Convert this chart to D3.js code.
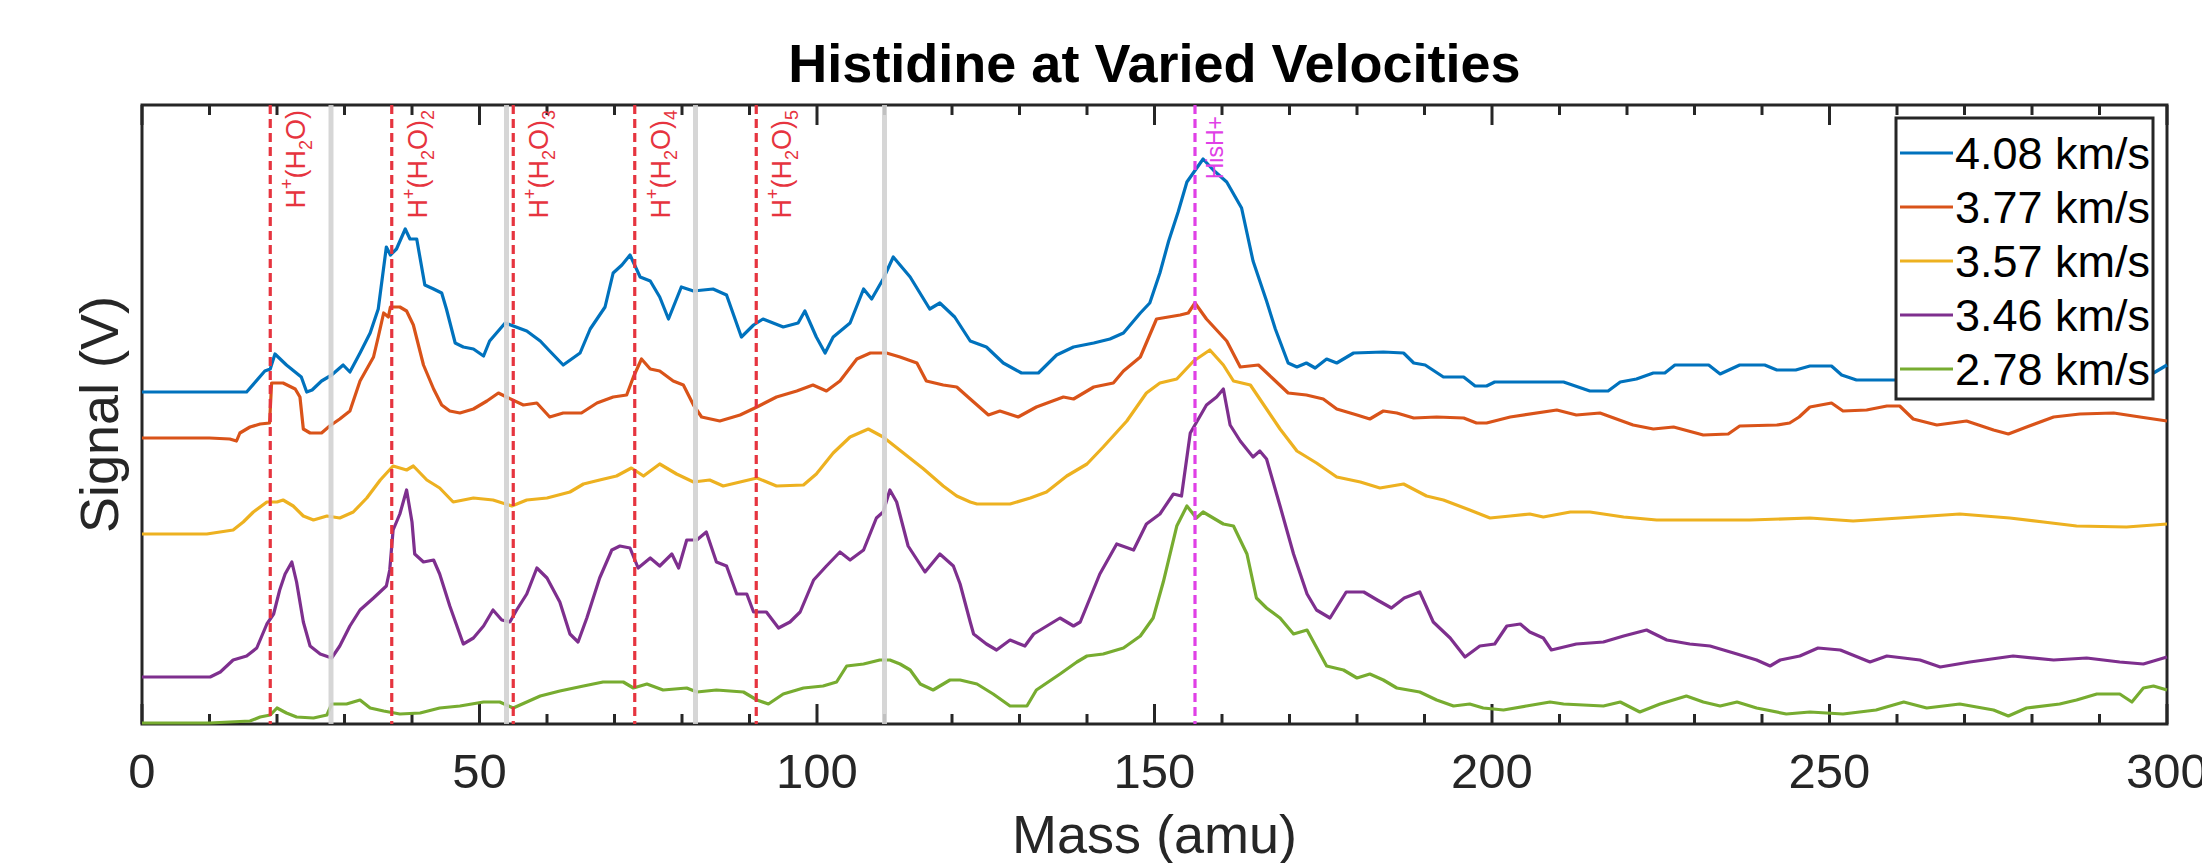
<!DOCTYPE html>
<html>
<head>
<meta charset="utf-8">
<script src="https://cdn.jsdelivr.net/npm/d3@7/dist/d3.min.js"></script>
<style>
  body { margin: 0; background: #fff; }
  svg { display: block; font-family: "Liberation Sans", Arial, Helvetica, sans-serif; }
</style>
</head>
<body>
<div id="vis"></div>
<script>
// ---- data: [mass (amu), signal (offset, a.u.)] ----

const velocities = ['4.08 km/s', '3.77 km/s', '3.57 km/s', '3.46 km/s', '2.78 km/s'];

const sig408 = [[0,3.32],[15.5,3.32],[18.2,3.53],[19,3.55],[19.7,3.70],[21.4,3.59],[23.6,3.47],[24.4,3.32],[25.2,3.34],[26.6,3.43],[28.1,3.49],[29.8,3.59],[30.8,3.52],[32.3,3.71],[33.8,3.91],[35.0,4.15],[36.2,4.77],[36.8,4.69],[37.7,4.75],[39.0,4.95],[39.7,4.85],[40.7,4.85],[41.9,4.39],[43.2,4.35],[44.4,4.31],[45.1,4.15],[46.4,3.81],[47.6,3.77],[49.1,3.75],[50.6,3.68],[51.5,3.83],[53.8,4.01],[57.0,3.93],[59.0,3.83],[60.4,3.73],[62.4,3.59],[64.9,3.71],[66.4,3.95],[68.6,4.17],[69.8,4.51],[71.1,4.59],[72.3,4.69],[73.8,4.47],[75.3,4.43],[76.7,4.27],[78.0,4.05],[79.9,4.37],[81.7,4.33],[84.6,4.35],[86.6,4.29],[88.8,3.87],[90.6,3.99],[92.0,4.05],[95.0,3.97],[97.2,4.01],[98.2,4.13],[99.9,3.87],[101.2,3.71],[102.4,3.87],[104.9,4.01],[106.9,4.35],[108.1,4.25],[109.8,4.45],[111.3,4.67],[113.8,4.47],[116.7,4.15],[118.2,4.21],[120.4,4.07],[122.7,3.83],[125.1,3.77],[127.6,3.61],[130.3,3.51],[132.8,3.51],[135.5,3.69],[138,3.77],[141,3.81],[143.4,3.85],[145.4,3.91],[147.9,4.11],[149.3,4.21],[150.8,4.51],[152.1,4.83],[153.5,5.12],[154.8,5.42],[157.2,5.65],[158.7,5.54],[160.7,5.42],[162.9,5.16],[164.6,4.63],[166.6,4.23],[167.9,3.95],[169.8,3.61],[171.1,3.57],[172.5,3.61],[173.8,3.56],[175.5,3.65],[177,3.61],[179.5,3.71],[183.9,3.72],[186.9,3.71],[188.4,3.61],[190.1,3.59],[192.8,3.47],[195.8,3.47],[197.5,3.38],[199.2,3.38],[200.4,3.42],[210.6,3.42],[214.5,3.33],[217.2,3.33],[219,3.42],[221.4,3.45],[223.9,3.51],[225.6,3.51],[227.1,3.59],[232.1,3.59],[233.8,3.50],[236.7,3.59],[240.4,3.59],[242.2,3.54],[245,3.54],[247.1,3.58],[250.3,3.58],[251.8,3.49],[254,3.44],[259.5,3.44],[270,3.45],[280,3.42],[290,3.46],[298,3.51],[300,3.59]];

const sig377 = [[0,2.86],[10,2.86],[13,2.85],[14,2.83],[14.5,2.91],[16,2.97],[17.5,3.00],[18.9,3.01],[19.2,3.41],[20.9,3.41],[22.7,3.35],[23.4,3.27],[23.9,2.95],[24.9,2.91],[26.6,2.91],[27.8,2.98],[29.3,3.05],[30.8,3.13],[32.3,3.43],[34.3,3.67],[35,3.87],[35.8,4.11],[36.5,4.07],[36.8,4.17],[38.2,4.17],[39.2,4.13],[40.2,3.99],[41.7,3.59],[43.2,3.35],[44.4,3.19],[45.6,3.13],[47.1,3.11],[49.1,3.15],[51.1,3.23],[52.8,3.31],[54,3.27],[56.5,3.19],[58.5,3.21],[60.4,3.07],[62.4,3.11],[65.1,3.11],[67.4,3.21],[69.8,3.27],[71.8,3.29],[72.8,3.47],[74,3.65],[75.3,3.55],[76.7,3.53],[78.7,3.43],[80.2,3.39],[81.7,3.19],[82.9,3.07],[85.6,3.03],[88.6,3.09],[91.1,3.17],[94,3.27],[97,3.33],[99.4,3.39],[101.4,3.33],[103.4,3.43],[105.9,3.65],[107.9,3.71],[110.3,3.71],[112.3,3.67],[114.8,3.61],[116.2,3.43],[118.7,3.39],[120.7,3.37],[122.7,3.25],[125.4,3.09],[127.1,3.13],[129.8,3.07],[132.5,3.17],[136.5,3.27],[138,3.25],[141,3.37],[143.9,3.41],[145.4,3.53],[147.9,3.67],[150.3,4.05],[153.8,4.09],[155,4.11],[156,4.21],[157.7,4.05],[160.7,3.83],[162.7,3.57],[165.4,3.59],[167.6,3.45],[169.8,3.31],[172.5,3.29],[175,3.25],[177,3.15],[180,3.09],[181.9,3.05],[183.9,3.13],[185.9,3.11],[188.4,3.06],[191.8,3.07],[195.8,3.06],[197.7,3.01],[199.2,3.01],[202.7,3.07],[209.6,3.14],[212.5,3.09],[216,3.11],[220.9,2.99],[223.9,2.95],[226.9,2.97],[231.3,2.89],[235,2.90],[236.7,2.98],[242.2,2.99],[244.1,3.01],[245.5,3.07],[247.1,3.17],[250.3,3.21],[252,3.13],[255.5,3.14],[258.5,3.18],[260.4,3.18],[262.4,3.05],[265.9,2.99],[270.3,3.03],[274.3,2.94],[276.5,2.90],[279.2,2.97],[283.2,3.07],[287.1,3.10],[292.1,3.11],[296,3.07],[300,3.03]];

const sig357 = [[0,1.90],[9.6,1.90],[13.5,1.94],[15,2.02],[16.5,2.12],[18.5,2.22],[20,2.22],[20.9,2.24],[22.4,2.18],[23.9,2.08],[25.4,2.04],[27.4,2.08],[29.3,2.06],[31.3,2.12],[33.3,2.26],[35.3,2.44],[37.2,2.58],[39.2,2.54],[40.2,2.58],[42.2,2.44],[44.1,2.36],[46.1,2.22],[49.1,2.26],[52,2.24],[54.8,2.18],[57,2.24],[60,2.26],[63.4,2.32],[65.4,2.40],[67.8,2.44],[70.3,2.48],[72.5,2.56],[74.3,2.48],[76.7,2.60],[79.2,2.50],[81.7,2.42],[84.1,2.44],[86.1,2.38],[88.6,2.42],[91.1,2.46],[94,2.38],[98,2.39],[99.9,2.50],[102.4,2.71],[104.9,2.87],[107.6,2.95],[109.8,2.87],[112.8,2.71],[115.8,2.55],[118.7,2.38],[120.7,2.28],[122.7,2.22],[123.7,2.20],[126.1,2.20],[128.6,2.20],[131.6,2.26],[134,2.32],[137,2.48],[140,2.60],[142.4,2.77],[145.9,3.03],[148.8,3.31],[150.8,3.41],[153.3,3.45],[155.8,3.63],[158.2,3.74],[160.2,3.59],[161.7,3.43],[164.2,3.39],[166.6,3.15],[168.6,2.95],[171.1,2.73],[174,2.61],[177,2.47],[180.5,2.42],[183.4,2.36],[186.9,2.40],[190.3,2.28],[192.8,2.24],[196.7,2.14],[199.7,2.06],[202.7,2.08],[205.6,2.10],[207.6,2.07],[211.6,2.12],[214.5,2.12],[219.5,2.07],[224.4,2.04],[231.3,2.04],[238.2,2.04],[247.1,2.06],[253.5,2.03],[260.4,2.06],[269.3,2.10],[276.7,2.06],[281.7,2.02],[286.6,1.98],[294,1.97],[300,2.00]];

const sig346 = [[0,0.47],[10.1,0.47],[11.6,0.52],[13.5,0.64],[15.5,0.68],[17,0.76],[18.5,1.00],[19.5,1.10],[20.4,1.34],[21.2,1.50],[22.2,1.62],[22.9,1.42],[23.9,1.02],[24.9,0.78],[26.4,0.70],[28.1,0.66],[29.3,0.78],[30.8,0.98],[32.3,1.14],[34.3,1.26],[36.2,1.38],[36.7,1.54],[37.2,1.94],[38.2,2.10],[39.2,2.34],[40,2.02],[40.4,1.70],[41.7,1.62],[43.2,1.64],[44.1,1.50],[45.6,1.18],[47.6,0.80],[49.1,0.86],[50.6,0.98],[52,1.14],[53.3,1.04],[54.5,1.02],[55.5,1.14],[57,1.30],[58.5,1.56],[60,1.46],[61.9,1.22],[63.4,0.90],[64.6,0.82],[65.9,1.06],[67.8,1.46],[69.6,1.74],[70.8,1.78],[72.3,1.76],[73.5,1.56],[75.3,1.66],[76.7,1.58],[78.5,1.70],[79.5,1.56],[80.7,1.84],[82.2,1.84],[83.6,1.92],[85.1,1.62],[86.6,1.58],[88.1,1.30],[89.6,1.30],[90.6,1.12],[92.5,1.12],[94.3,0.96],[96,1.02],[97.5,1.12],[99.5,1.44],[101.4,1.58],[103.4,1.72],[104.9,1.64],[106.9,1.74],[108.8,2.06],[109.8,2.12],[110.8,2.34],[111.8,2.22],[113.5,1.78],[116,1.52],[118.2,1.70],[120.2,1.58],[121.2,1.40],[122.7,1.02],[123.2,0.90],[125.1,0.80],[126.6,0.74],[128.6,0.84],[130.8,0.78],[132.1,0.90],[136,1.06],[138,0.98],[139,1.02],[141.9,1.50],[144.4,1.80],[146.9,1.74],[148.8,2.00],[150.8,2.10],[152.8,2.30],[154,2.28],[155.3,2.91],[157.7,3.19],[159.2,3.27],[160.2,3.35],[161.2,2.99],[162.7,2.83],[164.6,2.67],[165.6,2.73],[166.6,2.65],[168.6,2.18],[170.6,1.70],[172.6,1.30],[174,1.14],[176,1.06],[178.4,1.32],[181,1.32],[183,1.24],[185.1,1.16],[187,1.26],[189.3,1.32],[191.3,1.02],[193.8,0.86],[196,0.67],[198.2,0.78],[200.4,0.80],[202.2,0.98],[204.2,1.00],[205.6,0.92],[207.6,0.86],[208.8,0.74],[212.5,0.80],[216.5,0.82],[219.5,0.88],[222.9,0.94],[225.9,0.84],[229.3,0.80],[232.3,0.78],[236.3,0.70],[239.2,0.64],[241.2,0.58],[242.7,0.64],[245.6,0.68],[248.3,0.76],[251.6,0.74],[256,0.62],[258.5,0.68],[263.4,0.64],[266.4,0.57],[270.8,0.62],[277.2,0.68],[283.2,0.64],[288.1,0.66],[293,0.62],[296.5,0.60],[300,0.67]];

const sig278 = [[0,0.01],[10,0.01],[13,0.02],[16,0.03],[17.5,0.07],[19,0.09],[20,0.16],[21.4,0.11],[22.9,0.07],[25.4,0.06],[27.4,0.09],[28.1,0.20],[30.3,0.20],[32.3,0.24],[33.8,0.16],[35.8,0.13],[38.2,0.10],[41.2,0.11],[44.1,0.16],[47.1,0.18],[50.6,0.22],[53,0.22],[55,0.16],[57,0.22],[59,0.28],[61.9,0.33],[65.4,0.38],[68.3,0.42],[71.3,0.42],[72.8,0.36],[74.8,0.40],[77.2,0.34],[80.7,0.36],[82.2,0.32],[85.1,0.34],[89.1,0.32],[91.1,0.24],[92.8,0.20],[95,0.30],[98,0.36],[100.9,0.38],[102.9,0.42],[104.4,0.58],[106.9,0.60],[109.3,0.64],[110.8,0.64],[112.3,0.60],[113.8,0.54],[115.3,0.40],[117.2,0.34],[119.7,0.44],[121.2,0.44],[123.7,0.40],[126.1,0.30],[128.6,0.18],[131.1,0.18],[132.5,0.34],[136,0.50],[138.5,0.62],[140,0.68],[142.4,0.70],[145.4,0.76],[147.9,0.88],[149.8,1.06],[151.3,1.42],[153.3,1.98],[154.8,2.18],[156.2,2.06],[157.2,2.12],[160.2,2.00],[161.7,1.98],[163.7,1.70],[165.1,1.26],[166.6,1.16],[168.6,1.06],[170.6,0.90],[172.6,0.94],[175.5,0.58],[178,0.54],[180,0.46],[181.9,0.50],[183.9,0.44],[185.9,0.36],[189.3,0.32],[191.8,0.24],[194.3,0.18],[196.7,0.20],[198.7,0.16],[201.7,0.14],[205.1,0.18],[208.6,0.22],[210.6,0.20],[216.5,0.18],[219,0.22],[221.9,0.12],[224.9,0.20],[228.8,0.28],[231.3,0.22],[233.8,0.18],[236.3,0.22],[239.2,0.16],[243.6,0.10],[247.1,0.12],[252,0.10],[256.9,0.14],[261,0.22],[264.4,0.16],[269.3,0.20],[274.3,0.14],[276.5,0.08],[279.2,0.16],[284.1,0.20],[286.6,0.24],[289.6,0.30],[293,0.30],[294.8,0.22],[296.5,0.36],[298,0.38],[300,0.34]];

// marker lines
const waterClusterMasses = [19, 37, 55, 73, 91];   // H+(H2O)n, n = 1..5
const greyMarkerMasses = [28, 54, 82, 110];
const hisHMass = 156;

const massTicks = [0, 50, 100, 150, 200, 250, 300];
const minorTicks = d3.range(10, 300, 10).filter(d => d % 50 !== 0);

// ---- layout ----
const width = 2202;
const height = 863;
const margin = { left: 142, right: 2167, top: 105, bottom: 724 };

// MATLAB default line colours
const colors = ['#0072BD', '#D95319', '#EDB120', '#7E2F8E', '#77AC30'];
const axisColor = '#262626';

const series = [sig408, sig377, sig357, sig346, sig278];

const x = d3.scaleLinear().domain([0, 300]).range([margin.left, margin.right]);
const y = d3.scaleLinear().domain([0, 6.19]).range([margin.bottom, margin.top]);

const svg = d3.select('#vis')
  .append('svg')
  .attr('width', width)
  .attr('height', height);

svg.append('defs').append('clipPath')
  .attr('id', 'plotClip')
  .append('rect')
  .attr('x', margin.left - 2)
  .attr('y', margin.top)
  .attr('width', margin.right - margin.left + 4)
  .attr('height', margin.bottom - margin.top + 2);

// axes box
svg.append('rect')
  .attr('x', margin.left)
  .attr('y', margin.top)
  .attr('width', margin.right - margin.left)
  .attr('height', margin.bottom - margin.top)
  .attr('fill', 'none')
  .attr('stroke', axisColor)
  .attr('stroke-width', 3);

// ticks, pointing inward on bottom and top
function drawTicks(values, len) {
  svg.selectAll(null)
    .data(values)
    .enter().append('line')
    .attr('x1', d => x(d)).attr('x2', d => x(d))
    .attr('y1', margin.bottom).attr('y2', margin.bottom - len)
    .attr('stroke', axisColor).attr('stroke-width', 3);
  svg.selectAll(null)
    .data(values)
    .enter().append('line')
    .attr('x1', d => x(d)).attr('x2', d => x(d))
    .attr('y1', margin.top).attr('y2', margin.top + len)
    .attr('stroke', axisColor).attr('stroke-width', 3);
}
drawTicks(massTicks, 20);
drawTicks(minorTicks, 10);

svg.selectAll('.tickLabel')
  .data(massTicks)
  .enter().append('text')
  .attr('class', 'tickLabel')
  .attr('x', d => x(d))
  .attr('y', 788)
  .attr('text-anchor', 'middle')
  .attr('font-size', 49)
  .attr('fill', axisColor)
  .text(d => d);

// data lines
const line = d3.line()
  .x(d => x(d[0]))
  .y(d => y(d[1]));

const plot = svg.append('g').attr('clip-path', 'url(#plotClip)');

plot.selectAll('.trace')
  .data(series)
  .enter().append('path')
  .attr('class', 'trace')
  .attr('d', line)
  .attr('fill', 'none')
  .attr('stroke', (d, i) => colors[i])
  .attr('stroke-width', 3.2)
  .attr('stroke-linejoin', 'round');

// grey reference lines sit over the traces
plot.selectAll('.grey')
  .data(greyMarkerMasses)
  .enter().append('line')
  .attr('x1', d => x(d)).attr('x2', d => x(d))
  .attr('y1', margin.top).attr('y2', margin.bottom)
  .attr('stroke', '#d2d2d2')
  .attr('stroke-opacity', 0.9)
  .attr('stroke-width', 5);

plot.selectAll('.water')
  .data(waterClusterMasses)
  .enter().append('line')
  .attr('x1', d => x(d)).attr('x2', d => x(d))
  .attr('y1', margin.top).attr('y2', margin.bottom)
  .attr('stroke', '#e6343f')
  .attr('stroke-width', 3.2)
  .attr('stroke-dasharray', '9,5');

plot.append('line')
  .attr('x1', x(hisHMass)).attr('x2', x(hisHMass))
  .attr('y1', margin.top).attr('y2', margin.bottom)
  .attr('stroke', '#e040e6')
  .attr('stroke-width', 3.2)
  .attr('stroke-dasharray', '9,5');

// rotated labels next to each marker line
waterClusterMasses.forEach((m, i) => {
  let t = svg.append('text')
    .attr('transform', 'translate(' + (x(m) + 35) + ',' + 110 + ') rotate(-90)')
    .attr('text-anchor', 'end')
    .attr('font-size', 27)
    .attr('fill', '#e6343f');
  t.append('tspan').text('H');
  t.append('tspan').attr('font-size', 18).attr('dy', -12).text('+');
  t.append('tspan').attr('dy', 12).text('(H');
  t.append('tspan').attr('font-size', 18).attr('dy', 7).text('2');
  t.append('tspan').attr('dy', -7).text('O)');
  if (i > 0) {
    t.append('tspan').attr('font-size', 18).attr('dy', 7).text(i + 1);
  }
});

svg.append('text')
  .attr('transform', 'translate(' + (x(hisHMass) + 28) + ',' + 116 + ') rotate(-90)')
  .attr('text-anchor', 'end')
  .attr('font-size', 23)
  .attr('fill', '#e040e6')
  .text('HisH+');

// titles
svg.append('text')
  .attr('x', (margin.left + margin.right) / 2)
  .attr('y', 82)
  .attr('text-anchor', 'middle')
  .attr('font-size', 54)
  .attr('font-weight', 'bold')
  .attr('fill', '#000')
  .text('Histidine at Varied Velocities');

svg.append('text')
  .attr('x', (margin.left + margin.right) / 2)
  .attr('y', 853)
  .attr('text-anchor', 'middle')
  .attr('font-size', 54)
  .attr('fill', axisColor)
  .text('Mass (amu)');

svg.append('text')
  .attr('transform', 'translate(118,' + ((margin.top + margin.bottom) / 2) + ') rotate(-90)')
  .attr('text-anchor', 'middle')
  .attr('font-size', 54)
  .attr('fill', axisColor)
  .text('Signal (V)');

// legend
const legend = svg.append('g');
legend.append('rect')
  .attr('x', 1896)
  .attr('y', 118)
  .attr('width', 257)
  .attr('height', 281)
  .attr('fill', '#fff')
  .attr('stroke', axisColor)
  .attr('stroke-width', 3);

const rows = legend.selectAll('.row')
  .data(velocities)
  .enter().append('g')
  .attr('class', 'row')
  .attr('transform', (d, i) => 'translate(0,' + (153 + i * 54) + ')');

rows.append('line')
  .attr('x1', 1900).attr('x2', 1953)
  .attr('y1', 0).attr('y2', 0)
  .attr('stroke', (d, i) => colors[i])
  .attr('stroke-width', 3.2);

rows.append('text')
  .attr('x', 1955)
  .attr('y', 16)
  .attr('font-size', 45)
  .attr('fill', '#000')
  .text(d => d);
</script>
</body>
</html>
